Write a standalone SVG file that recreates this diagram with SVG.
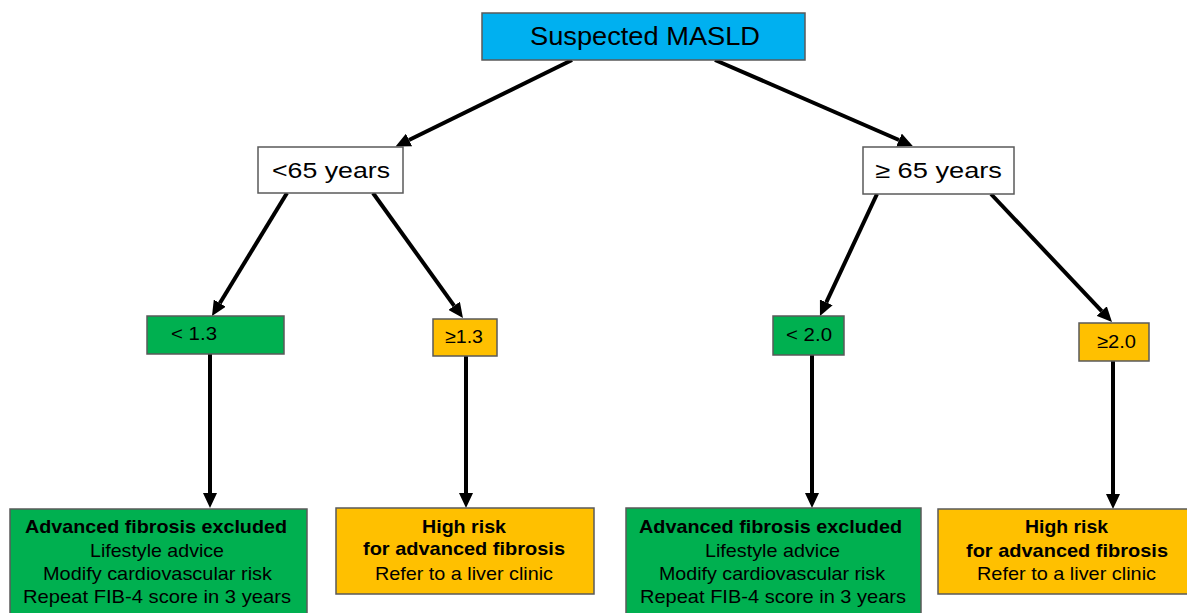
<svg xmlns="http://www.w3.org/2000/svg" width="1187" height="613" viewBox="0 0 1187 613">
<style>
.box{stroke:#5a5a5a;stroke-width:1.5}
.blue{fill:#00B0F0}
.white{fill:#ffffff}
.green{fill:#00B050}
.orange{fill:#FFC000}
text{font-family:"Liberation Sans",Arial,sans-serif;fill:#000}
.c{text-anchor:middle}
.b{font-weight:bold}
.conn{stroke:#000;stroke-width:4;fill:none;marker-end:url(#ah)}
</style>
<defs>
<marker id="ah" markerUnits="userSpaceOnUse" markerWidth="15" markerHeight="14" viewBox="0 0 15 14" refX="0" refY="7" orient="auto">
<path d="M0,0 L15,7 L0,14 z" fill="#000"/>
</marker>
</defs>
<rect width="1187" height="613" fill="#ffffff"/>
<g id="connectors">
<line class="conn" x1="572" y1="60" x2="409" y2="140"/>
<line class="conn" x1="715" y1="60" x2="899" y2="140"/>
<line class="conn" x1="287" y1="193" x2="219.8" y2="303.2"/>
<line class="conn" x1="373" y1="193" x2="454.2" y2="305.8"/>
<line class="conn" x1="877" y1="194" x2="826.3" y2="302.4"/>
<line class="conn" x1="991" y1="194" x2="1101.7" y2="311.1"/>
<line class="conn" x1="210" y1="354" x2="210" y2="493"/>
<line class="conn" x1="466" y1="356" x2="466" y2="493"/>
<line class="conn" x1="812" y1="355" x2="812" y2="493"/>
<line class="conn" x1="1113" y1="361" x2="1113" y2="494"/>
</g>
<g id="n-suspected">
<rect class="box blue" x="482" y="13" width="323" height="47"/>
<text class="c" x="645" y="45" font-size="25" textLength="230" lengthAdjust="spacingAndGlyphs">Suspected MASLD</text>
</g>
<g id="n-under65">
<rect class="box white" x="258" y="147" width="145" height="46"/>
<text class="c" x="331" y="178" font-size="22" textLength="118" lengthAdjust="spacingAndGlyphs">&lt;65 years</text>
</g>
<g id="n-over65">
<rect class="box white" x="863" y="147" width="151" height="47"/>
<text class="c" x="938.5" y="178" font-size="22" textLength="127" lengthAdjust="spacingAndGlyphs">≥ 65 years</text>
</g>
<g id="n-lt13">
<rect class="box green" x="147" y="316" width="137" height="38"/>
<text x="171" y="340" font-size="19" textLength="46" lengthAdjust="spacingAndGlyphs">&lt; 1.3</text>
</g>
<g id="n-ge13">
<rect class="box orange" x="433" y="319" width="64" height="37"/>
<text class="c" x="464" y="343" font-size="19" textLength="38" lengthAdjust="spacingAndGlyphs">≥1.3</text>
</g>
<g id="n-lt20">
<rect class="box green" x="773" y="316" width="71" height="39"/>
<text class="c" x="809" y="341" font-size="19" textLength="46" lengthAdjust="spacingAndGlyphs">&lt; 2.0</text>
</g>
<g id="n-ge20">
<rect class="box orange" x="1079" y="323" width="70" height="38"/>
<text class="c" x="1116.5" y="348" font-size="19" textLength="39" lengthAdjust="spacingAndGlyphs">≥2.0</text>
</g>
<g id="n-excl-left">
<rect class="box green" x="10" y="509" width="297" height="110"/>
<text class="c b" x="156" y="533" font-size="19" textLength="262" lengthAdjust="spacingAndGlyphs">Advanced fibrosis excluded</text>
<text class="c" x="157" y="557" font-size="19" textLength="134" lengthAdjust="spacingAndGlyphs">Lifestyle advice</text>
<text class="c" x="157.5" y="580" font-size="19" textLength="229" lengthAdjust="spacingAndGlyphs">Modify cardiovascular risk</text>
<text class="c" x="157" y="603" font-size="19" textLength="268" lengthAdjust="spacingAndGlyphs">Repeat FIB-4 score in 3 years</text>
</g>
<g id="n-risk-left">
<rect class="box orange" x="336" y="508" width="258" height="86"/>
<text class="c b" x="464" y="533" font-size="19" textLength="84" lengthAdjust="spacingAndGlyphs">High risk</text>
<text class="c b" x="464" y="555" font-size="19" textLength="202" lengthAdjust="spacingAndGlyphs">for advanced fibrosis</text>
<text class="c" x="464" y="580" font-size="19" textLength="178" lengthAdjust="spacingAndGlyphs">Refer to a liver clinic</text>
</g>
<g id="n-excl-right">
<rect class="box green" x="626" y="508" width="295" height="110"/>
<text class="c b" x="770.5" y="533" font-size="19" textLength="263" lengthAdjust="spacingAndGlyphs">Advanced fibrosis excluded</text>
<text class="c" x="772.5" y="557" font-size="19" textLength="135" lengthAdjust="spacingAndGlyphs">Lifestyle advice</text>
<text class="c" x="772" y="580" font-size="19" textLength="226" lengthAdjust="spacingAndGlyphs">Modify cardiovascular risk</text>
<text class="c" x="773" y="603" font-size="19" textLength="266" lengthAdjust="spacingAndGlyphs">Repeat FIB-4 score in 3 years</text>
</g>
<g id="n-risk-right">
<rect class="box orange" x="938" y="509" width="252" height="85"/>
<text class="c b" x="1066.5" y="533" font-size="19" textLength="83" lengthAdjust="spacingAndGlyphs">High risk</text>
<text class="c b" x="1067" y="557" font-size="19" textLength="202" lengthAdjust="spacingAndGlyphs">for advanced fibrosis</text>
<text class="c" x="1066.5" y="580" font-size="19" textLength="179" lengthAdjust="spacingAndGlyphs">Refer to a liver clinic</text>
</g>
</svg>
